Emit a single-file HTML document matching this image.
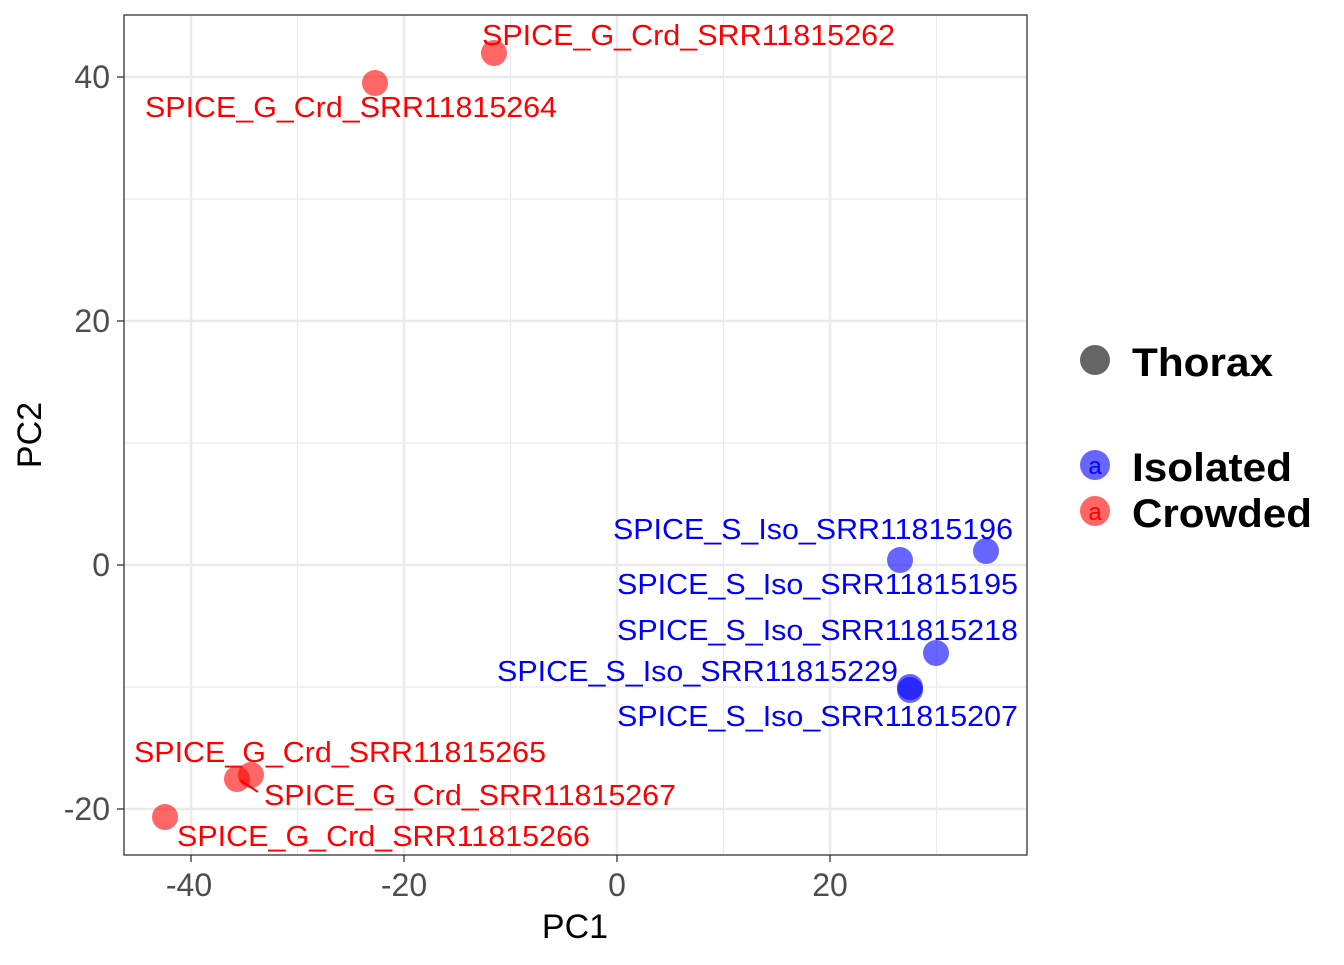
<!DOCTYPE html><html><head><style>body{margin:0;background:#fff}</style></head><body>
<svg width="1344" height="960" xmlns="http://www.w3.org/2000/svg" font-family="Liberation Sans, Arial, sans-serif">
<rect width="1344" height="960" fill="#fff"/>
<g stroke="#ebebeb" stroke-width="1.2">
<line x1="297.5" y1="15" x2="297.5" y2="855"/><line x1="510.5" y1="15" x2="510.5" y2="855"/><line x1="723.5" y1="15" x2="723.5" y2="855"/><line x1="936.5" y1="15" x2="936.5" y2="855"/>
<line x1="124" y1="199" x2="1027" y2="199"/><line x1="124" y1="443" x2="1027" y2="443"/><line x1="124" y1="687" x2="1027" y2="687"/>
</g>
<g stroke="#ebebeb" stroke-width="2.5">
<line x1="191" y1="15" x2="191" y2="855"/><line x1="404" y1="15" x2="404" y2="855"/><line x1="617" y1="15" x2="617" y2="855"/><line x1="830" y1="15" x2="830" y2="855"/>
<line x1="124" y1="77" x2="1027" y2="77"/><line x1="124" y1="321" x2="1027" y2="321"/><line x1="124" y1="565" x2="1027" y2="565"/><line x1="124" y1="809" x2="1027" y2="809"/>
</g>
<g fill="#ff0000" fill-opacity="0.6">
<circle cx="494" cy="53" r="13"/><circle cx="375" cy="83" r="13"/><circle cx="237" cy="779" r="13"/><circle cx="251" cy="775" r="13"/><circle cx="165" cy="817" r="13"/>
</g>
<g fill="#0000ff" fill-opacity="0.6">
<circle cx="900" cy="560" r="13"/><circle cx="986" cy="551" r="13"/><circle cx="936" cy="653" r="13"/><circle cx="910" cy="687" r="13"/><circle cx="910" cy="690" r="13"/>
</g>
<line x1="240" y1="780" x2="258" y2="792" stroke="#ff0000" stroke-width="2"/>
<g font-size="28.5" fill="#ff0000">
<text x="482" y="45" textLength="413" lengthAdjust="spacingAndGlyphs">SPICE_G_Crd_SRR11815262</text>
<text x="145" y="117" textLength="412" lengthAdjust="spacingAndGlyphs">SPICE_G_Crd_SRR11815264</text>
<text x="134" y="762" textLength="412" lengthAdjust="spacingAndGlyphs">SPICE_G_Crd_SRR11815265</text>
<text x="264" y="805" textLength="412" lengthAdjust="spacingAndGlyphs">SPICE_G_Crd_SRR11815267</text>
<text x="177" y="846" textLength="413" lengthAdjust="spacingAndGlyphs">SPICE_G_Crd_SRR11815266</text>
</g>
<g font-size="28.5" fill="#0000ff">
<text x="613" y="539" textLength="400" lengthAdjust="spacingAndGlyphs">SPICE_S_Iso_SRR11815196</text>
<text x="617" y="594" textLength="401" lengthAdjust="spacingAndGlyphs">SPICE_S_Iso_SRR11815195</text>
<text x="617" y="640" textLength="401" lengthAdjust="spacingAndGlyphs">SPICE_S_Iso_SRR11815218</text>
<text x="497" y="681" textLength="401" lengthAdjust="spacingAndGlyphs">SPICE_S_Iso_SRR11815229</text>
<text x="617" y="726" textLength="401" lengthAdjust="spacingAndGlyphs">SPICE_S_Iso_SRR11815207</text>
</g>
<rect x="124" y="15" width="903" height="840" fill="none" stroke="#333" stroke-width="1.3"/>
<g stroke="#333" stroke-width="1.3">
<line x1="191" y1="855" x2="191" y2="862"/><line x1="404" y1="855" x2="404" y2="862"/><line x1="617" y1="855" x2="617" y2="862"/><line x1="830" y1="855" x2="830" y2="862"/>
<line x1="117" y1="77" x2="124" y2="77"/><line x1="117" y1="321" x2="124" y2="321"/><line x1="117" y1="565" x2="124" y2="565"/><line x1="117" y1="809" x2="124" y2="809"/>
</g>
<g font-size="32" fill="#4d4d4d" text-anchor="middle">
<text x="189" y="896">-40</text><text x="404" y="896">-20</text><text x="617" y="896">0</text><text x="830" y="896">20</text>
</g>
<g font-size="32" fill="#4d4d4d" text-anchor="end">
<text x="110" y="88">40</text><text x="110" y="332">20</text><text x="110" y="576">0</text><text x="110" y="820">-20</text>
</g>
<text x="575" y="938" font-size="34" text-anchor="middle">PC1</text>
<text transform="translate(41,435) rotate(-90)" font-size="34" text-anchor="middle">PC2</text>
<circle cx="1095" cy="360" r="15" fill="#666"/>
<circle cx="1095" cy="465" r="15" fill="#0000ff" fill-opacity="0.6"/>
<text x="1095" y="474" font-size="24" fill="#0000ff" text-anchor="middle">a</text>
<circle cx="1095" cy="511" r="15" fill="#ff0000" fill-opacity="0.6"/>
<text x="1095" y="520" font-size="24" fill="#ff0000" text-anchor="middle">a</text>
<g font-size="40" font-weight="bold">
<text x="1132" y="376" textLength="141" lengthAdjust="spacingAndGlyphs">Thorax</text>
<text x="1132" y="481" textLength="160" lengthAdjust="spacingAndGlyphs">Isolated</text>
<text x="1132" y="527" textLength="180" lengthAdjust="spacingAndGlyphs">Crowded</text>
</g>
</svg>
</body></html>
